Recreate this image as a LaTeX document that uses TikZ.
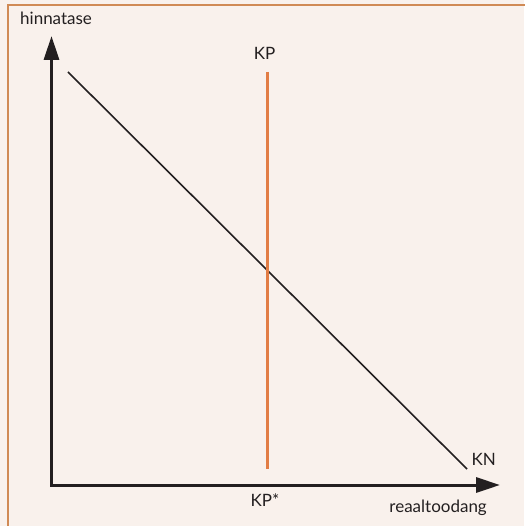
\documentclass[tikz,border=0pt]{standalone}
\usepackage{fontspec}
\setmainfont{Lato}
\usetikzlibrary{arrows.meta}
\definecolor{bgbeige}{HTML}{F9F1EC}
\definecolor{frameorange}{HTML}{D08A55}
\definecolor{kporange}{HTML}{E27D45}
\definecolor{inkblack}{HTML}{231F20}
\tikzset{
  axisline/.style={draw=inkblack, line width=3pt, line join=miter, {Triangle[length=24pt,width=15pt]}-{Triangle[length=24pt,width=15pt]}},
  demandline/.style={draw=inkblack, line width=1.6pt},
  supplyline/.style={draw=kporange, line width=3pt},
  lbl/.style={text=inkblack, font=\fontsize{17}{19}\selectfont, inner sep=0pt},
}
\begin{document}
\begin{tikzpicture}[x=1pt,y=-1pt]
\useasboundingbox (0,0) rectangle (524,526);
\fill[bgbeige] (0,0) rectangle (524,526);
\draw[frameorange, line width=2pt] (8,530) -- (8,5.5) -- (530,5.5);
% axes
\coordinate (ytip) at (51.5,36);
\coordinate (origin) at (51.5,485);
\coordinate (xtip) at (500,485);
\draw[axisline] (ytip) -- (origin) -- (xtip);
% demand line
\coordinate (knstart) at (68,72);
\coordinate (knend) at (467,469);
\draw[demandline] (knstart) -- (knend);
% supply line
\coordinate (kptop) at (267.5,72);
\coordinate (kpbottom) at (267.5,469);
\draw[supplyline] (kptop) -- (kpbottom);
% labels
\node[lbl, anchor=base west] (ylabel) at (20,25) {hinnatase};
\node[lbl, anchor=base] (kplabel) at (264.5,59.5) {KP};
\node[lbl, anchor=base] (kpstar) at (265,506.5) {KP*};
\node[lbl, anchor=base west] (knlabel) at (471.5,465) {KN};
\node[lbl, anchor=base east] (xlabel) at (487,512) {reaaltoodang};
\end{tikzpicture}
\end{document}
